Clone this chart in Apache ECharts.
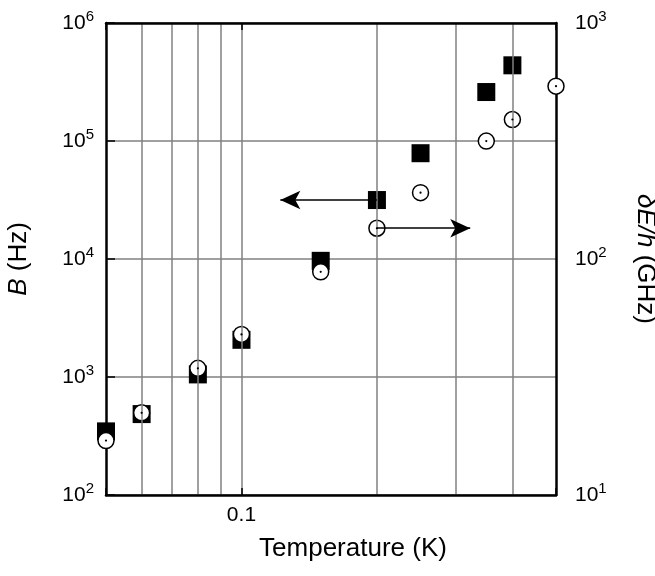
<!DOCTYPE html>
<html><head><meta charset="utf-8">
<script src="https://cdn.jsdelivr.net/npm/echarts@6/dist/echarts.min.js"></script>
<style>html,body{margin:0;padding:0;background:#fff}#c{width:655px;height:576px}</style>
</head><body><div id="c"></div>
<script>
// ---- data ----
const squareTemps = [0.05, 0.06, 0.08, 0.1, 0.15, 0.2, 0.25, 0.35, 0.4];
const squareB     = [346, 485, 1052, 2066, 9650, 31600, 78800, 260000, 438000];
const circleTemps = [0.05, 0.06, 0.08, 0.1, 0.15, 0.2, 0.25, 0.35, 0.4, 0.5];
const circleDE    = [17.0, 22.3, 34.4, 47.9, 88.2, 135, 191, 316, 390, 540];
const xGridValues = [0.06, 0.07, 0.08, 0.09, 0.1, 0.2, 0.3, 0.4];
const xTickLabels = ['0.1'];
const leftArrow   = [[0.2, 31600], [0.122, 31600]];
const rightArrow  = [[0.2, 135], [0.3224, 135]];

const FONT = 'Liberation Sans, Arial, Helvetica, sans-serif';
const chart = echarts.init(document.getElementById('c'));

function pow10(v) {
  const e = Math.round(Math.log10(v));
  return '{b|10}{s|' + e + '}';
}
const supRich = {
  b: { fontSize: 21, fontFamily: FONT, color: '#000' },
  s: { fontSize: 15, fontFamily: FONT, color: '#000', padding: [0, 0, 12, 0] }
};
function xLabel(v) {
  const s = String(+(+v).toPrecision(3));
  return xTickLabels.indexOf(s) >= 0 ? s : '';
}
const squares = squareTemps.map((t, i) => [t, squareB[i]]);
const circles = circleTemps.map((t, i) => [t, circleDE[i]]);

const blackLine = { show: true, lineStyle: { color: '#000', width: 2.5 } };
const nameRich = { i: { fontSize: 26, fontFamily: FONT, fontStyle: 'italic', color: '#000' } };

chart.setOption({
  animation: false,
  backgroundColor: '#fff',
  grid: { left: 106, right: 99, top: 23, bottom: 81, containLabel: false, outerBoundsMode: 'none' },
  xAxis: [
    {
      type: 'log', logBase: 10, min: 0.05, max: 0.5, position: 'bottom', z: 10,
      name: 'Temperature (K)', nameLocation: 'middle', nameGap: 41,
      nameTextStyle: { fontSize: 26, fontFamily: FONT, color: '#000', padding: [0, 0, 0, 44] },
      axisLine: blackLine,
      axisTick: { show: true, inside: true, length: 7, lineStyle: { color: '#000', width: 1.5 } },
      axisLabel: { formatter: xLabel, fontSize: 21, fontFamily: FONT, color: '#000', margin: 10 },
      splitLine: { show: false }
    },
    {
      type: 'log', logBase: 10, min: 0.05, max: 0.5, position: 'top', z: 10,
      axisLine: blackLine,
      axisTick: { show: true, inside: true, length: 7, lineStyle: { color: '#000', width: 1.5 } },
      axisLabel: { show: false },
      splitLine: { show: false }
    }
  ],
  yAxis: [
    {
      type: 'log', logBase: 10, min: 100, max: 1e6, position: 'left',
      name: '{i|B} (Hz)', nameLocation: 'middle', nameGap: 74,
      nameTextStyle: { fontSize: 26, fontFamily: FONT, color: '#000', rich: nameRich },
      axisLine: blackLine,
      axisTick: { show: true, inside: true, length: 9, lineStyle: { color: '#000', width: 1.5 } },
      axisLabel: { formatter: pow10, rich: supRich, margin: 12 },
      splitLine: { show: true, lineStyle: { color: '#808080', width: 1.5 } }
    },
    {
      type: 'log', logBase: 10, min: 10, max: 1000, position: 'right',
      name: '{i|δE/h} (GHz)', nameLocation: 'middle', nameGap: 76, nameRotate: -90,
      nameTextStyle: { fontSize: 26, fontFamily: FONT, color: '#000', rich: nameRich },
      axisLine: blackLine,
      axisTick: { show: false },
      axisLabel: { formatter: pow10, rich: supRich, margin: 19 },
      splitLine: { show: false }
    }
  ],
  series: [
    {
      type: 'scatter', xAxisIndex: 0, yAxisIndex: 0, data: [], z: 1, silent: true,
      markLine: {
        silent: true, symbol: ['none', 'none'], label: { show: false },
        lineStyle: { color: '#808080', width: 1.5, type: 'solid' },
        data: xGridValues.map(v => ({ xAxis: v }))
      }
    },
    {
      type: 'scatter', xAxisIndex: 0, yAxisIndex: 1, data: [], z: 2, silent: true,
      markLine: {
        silent: true, symbol: ['none', 'arrow'], symbolSize: [14, 20], label: { show: false },
        lineStyle: { color: '#000', width: 1.5, type: 'solid' },
        data: [[{ coord: rightArrow[0] }, { coord: rightArrow[1] }]]
      }
    },
    {
      type: 'scatter', xAxisIndex: 0, yAxisIndex: 0, data: squares, z: 3,
      symbol: 'rect', symbolSize: 18,
      itemStyle: { color: '#000', opacity: 1 },
      markLine: {
        silent: true, symbol: ['none', 'arrow'], symbolSize: [14, 20], label: { show: false },
        lineStyle: { color: '#000', width: 1.5, type: 'solid' },
        data: [[{ coord: leftArrow[0] }, { coord: leftArrow[1] }]]
      }
    },
    {
      type: 'scatter', xAxisIndex: 0, yAxisIndex: 1, data: circles, z: 4,
      symbol: 'circle', symbolSize: 16,
      itemStyle: { color: '#fff', borderColor: '#000', borderWidth: 1.5, opacity: 1 }
    },
    {
      type: 'scatter', xAxisIndex: 0, yAxisIndex: 1, data: circles, z: 5,
      symbol: 'circle', symbolSize: 2.2, silent: true,
      itemStyle: { color: '#000', opacity: 1 }
    }
  ]
});
</script></body></html>
